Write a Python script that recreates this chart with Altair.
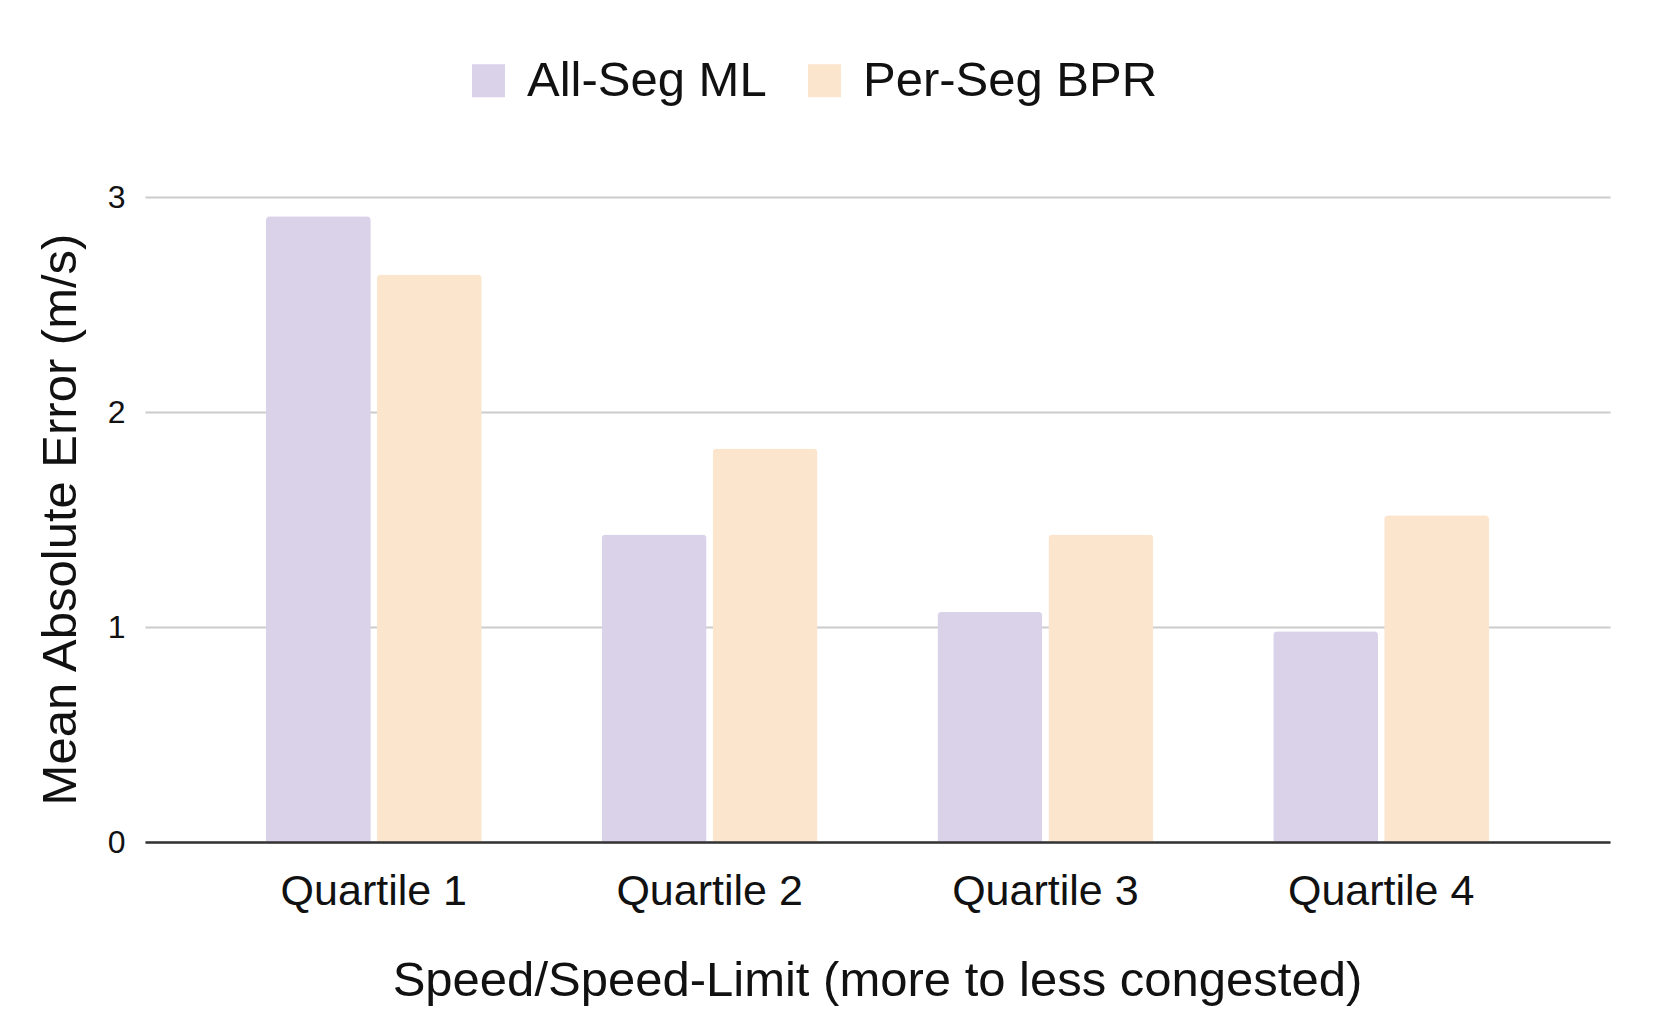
import altair as alt
import pandas as pd

quartiles = ["Quartile 1", "Quartile 2", "Quartile 3", "Quartile 4"]
series_names = ["All-Seg ML", "Per-Seg BPR"]
all_seg_ml = [2.91, 1.43, 1.07, 0.98]
per_seg_bpr = [2.64, 1.83, 1.43, 1.52]
colors = ["#d9d2e9", "#fce5cd"]

rows = []
for q, a, b in zip(quartiles, all_seg_ml, per_seg_bpr):
    rows.append({"quartile": q, "series": series_names[0], "value": a})
    rows.append({"quartile": q, "series": series_names[1], "value": b})
df = pd.DataFrame(rows)

FONT = "Liberation Sans"

chart = alt.Chart(df).mark_bar(
    cornerRadiusTopLeft=4, cornerRadiusTopRight=4
).encode(
    x=alt.X(
        "quartile:N",
        sort=quartiles,
        scale=alt.Scale(paddingInner=0.357, paddingOuter=0.36),
        axis=alt.Axis(
            title="Speed/Speed-Limit (more to less congested)",
            labelAngle=0,
            labelFontSize=43,
            labelPadding=28,
            labelLimit=0,
            labelColor="#111111",
            labelFont=FONT,
            ticks=False,
            domainColor="#333333",
            domainWidth=2.5,
            grid=False,
            titleFont=FONT,
            titleFontSize=49,
            titleFontWeight="normal",
            titleColor="#111111",
            titleX=732,
            titleY=138,
            titleAlign="center",
            titleBaseline="middle",
            titleLimit=0,
            zindex=2,
        ),
    ),
    xOffset=alt.XOffset(
        "series:N",
        sort=series_names,
        scale=alt.Scale(paddingInner=0.054, paddingOuter=0),
    ),
    y=alt.Y(
        "value:Q",
        scale=alt.Scale(domain=[0, 3], nice=False),
        axis=alt.Axis(
            title="Mean Absolute Error (m/s)",
            values=[0, 1, 2, 3],
            format="d",
            labelFontSize=32,
            labelPadding=20,
            labelColor="#111111",
            labelFont=FONT,
            ticks=False,
            domain=False,
            grid=True,
            gridColor="#cccccc",
            gridWidth=2,
            titleFont=FONT,
            titleFontSize=49,
            titleFontWeight="normal",
            titleColor="#111111",
            titleX=-85,
            titleY=322,
            titleAlign="center",
            titleBaseline="middle",
            titleAngle=270,
            titleLimit=0,
        ),
    ),
    color=alt.Color(
        "series:N",
        sort=series_names,
        scale=alt.Scale(domain=series_names, range=colors),
        legend=alt.Legend(
            title=None,
            orient="none",
            direction="horizontal",
            legendX=319,
            legendY=-141,
            symbolType="square",
            symbolSize=1089,
            symbolStrokeWidth=0,
            symbolOpacity=1,
            labelFont=FONT,
            labelFontSize=49,
            labelColor="#111111",
            labelOffset=14,
            labelLimit=0,
            columnPadding=33,
        ),
    ),
).properties(
    width=1465,
    height=645,
    autosize=alt.AutoSizeParams(type="none"),
    padding={"left": 137, "top": 189, "right": 43, "bottom": 170},
).configure(
    background="white"
).configure_view(
    stroke=None
)

chart.save("out.html", embed_options={"renderer": "svg", "actions": False})
